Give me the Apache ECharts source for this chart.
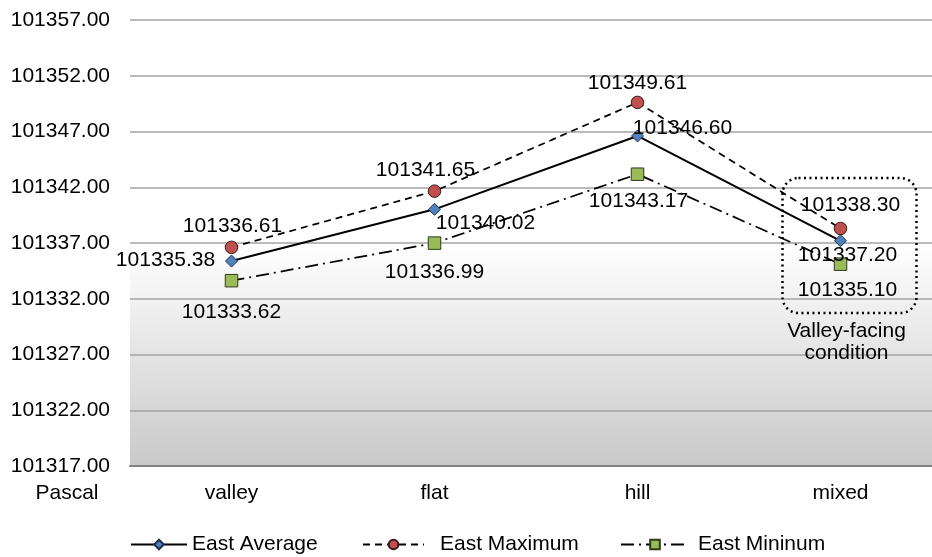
<!DOCTYPE html>
<html>
<head>
<meta charset="utf-8">
<script src="https://cdn.jsdelivr.net/npm/echarts@6/dist/echarts.min.js"></script>
<style>
  html, body { margin: 0; padding: 0; background: #fff; overflow: hidden; }
  /* the plot runs slightly past the right edge of the window */
  #chart { width: 943px; height: 557px; }
</style>
</head>
<body>
<div id="chart"></div>
<script>
// Terrain categories and surface pressure readings (Pa)
const categories = ['valley', 'flat', 'hill', 'mixed'];
const eastAverage = [101335.38, 101340.02, 101346.60, 101337.20];
const eastMaximum = [101336.61, 101341.65, 101349.61, 101338.30];
const eastMinimum = [101333.62, 101336.99, 101343.17, 101335.10];

// Value axis range and step
const axisMin = 101317;
const axisMax = 101357;
const axisStep = 5;

// Label placement for each point (offset of label centre from the marker)
const avgLabelOffsets = [[-66, -1], [51, 14], [45, -8], [7, 14]];
const maxLabelOffsets = [[1, -21], [-9, -21], [0, -19], [10, -23]];
const minLabelOffsets = [[0, 32], [0, 29], [1, 27], [7, 26]];

const FONT = 'Liberation Sans, Arial, sans-serif';
const FS = 21;

// The axis is drawn relative to its lower bound so ticks fall on whole steps
const shift = v => +(v - axisMin).toFixed(4);

function seriesData(values, offsets) {
  return values.map((v, i) => ({
    value: shift(v),
    label: { offset: offsets[i] }
  }));
}

const labelBase = {
  show: true,
  position: 'inside',
  color: '#000',
  fontFamily: FONT,
  fontSize: FS,
  formatter: p => (p.value + axisMin).toFixed(2)
};

function legendItem(name, left, iconWidth, textGap) {
  return {
    left: left,
    top: 529,
    itemWidth: iconWidth,
    itemHeight: 12,
    textStyle: { color: '#000', fontFamily: FONT, fontSize: FS, padding: [0, 0, 0, textGap] },
    data: [name]
  };
}

const chart = echarts.init(document.getElementById('chart'), null, { renderer: 'canvas' });

const option = {
  animation: false,
  backgroundColor: '#fff',
  textStyle: { fontFamily: FONT },
  grid: { left: 130, top: 20, width: 812, height: 446, containLabel: false },
  xAxis: {
    type: 'category',
    data: categories,
    boundaryGap: true,
    axisLine: { lineStyle: { color: '#808080', width: 2 } },
    axisTick: { show: false },
    axisLabel: { color: '#000', fontFamily: FONT, fontSize: FS, margin: 17 },
    splitLine: { show: false }
  },
  yAxis: {
    type: 'value',
    min: 0,
    max: axisMax - axisMin,
    interval: axisStep,
    axisLine: { show: false },
    axisTick: { show: false },
    axisLabel: {
      color: '#000', fontFamily: FONT, fontSize: FS, margin: 20,
      formatter: v => (v + axisMin).toFixed(2)
    },
    splitLine: { lineStyle: { color: '#a3a3a3', width: 1.5 } }
  },
  legend: [
    legendItem('East Average', 125, 56, 0),
    legendItem('East Maximum', 357, 61, 11),
    legendItem('East Mininum', 615, 68, 4)
  ],
  series: [
    {
      name: 'East Average',
      type: 'line',
      data: seriesData(eastAverage, avgLabelOffsets),
      symbol: 'diamond',
      symbolSize: 12,
      z: 5,
      lineStyle: { color: '#000', width: 2, type: 'solid' },
      itemStyle: { color: '#4f81bd', borderColor: '#1f2f4f', borderWidth: 1 },
      label: labelBase,
      markArea: {
        silent: true,
        z: -1,
        itemStyle: {
          color: {
            type: 'linear', x: 0, y: 0, x2: 0, y2: 1,
            colorStops: [
              { offset: 0, color: '#ffffff' },
              { offset: 1, color: '#c9c9c9' }
            ]
          }
        },
        data: [[{ yAxis: shift(101337) }, { yAxis: 0 }]]
      }
    },
    {
      name: 'East Maximum',
      type: 'line',
      data: seriesData(eastMaximum, maxLabelOffsets),
      symbol: 'circle',
      symbolSize: 12.5,
      z: 4,
      lineStyle: { color: '#000', width: 1.75, type: [7, 5] },
      itemStyle: { color: '#c0504d', borderColor: '#3a1716', borderWidth: 1 },
      label: labelBase
    },
    {
      name: 'East Mininum',
      type: 'line',
      data: seriesData(eastMinimum, minLabelOffsets),
      symbol: 'rect',
      symbolSize: 12.5,
      z: 3,
      lineStyle: { color: '#000', width: 1.75, type: [13, 5, 2, 5] },
      itemStyle: { color: '#9bbb59', borderColor: '#2e3a1a', borderWidth: 1 },
      label: labelBase
    }
  ]
};

chart.setOption(option);

// Annotation around the mixed category: dotted rounded box and caption
const c = chart.convertToPixel({ gridIndex: 0 }, ['mixed', shift(101342.83)]);
const b = chart.convertToPixel({ gridIndex: 0 }, ['mixed', shift(101330.72)]);
const boxW = 134;
const cx = c[0] + 9;
chart.setOption({
  graphic: [
    {
      type: 'rect',
      silent: true,
      z: 10,
      shape: { x: cx - boxW / 2, y: c[1], width: boxW, height: b[1] - c[1], r: 16 },
      style: { fill: 'none', stroke: '#000', lineWidth: 2.5, lineDash: [2, 3.5] }
    },
    {
      type: 'text',
      silent: true,
      z: 10,
      x: cx - 3,
      y: b[1] + 7,
      style: {
        text: 'Valley-facing\ncondition',
        fill: '#000',
        font: FS + 'px ' + FONT,
        align: 'center',
        verticalAlign: 'top',
        lineHeight: 22
      }
    },
    {
      type: 'text',
      silent: true,
      x: 67,
      y: 493,
      style: {
        text: 'Pascal',
        fill: '#000',
        font: FS + 'px ' + FONT,
        align: 'center',
        verticalAlign: 'middle'
      }
    }
  ]
});
</script>
</body>
</html>
